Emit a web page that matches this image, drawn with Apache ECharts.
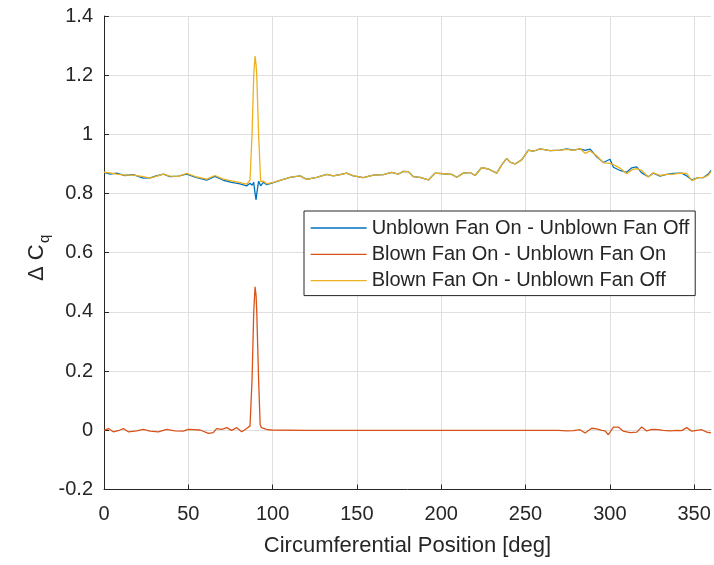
<!DOCTYPE html>
<html>
<head>
<meta charset="utf-8">
<title>Delta Cq vs circumferential position</title>
<script src="https://cdn.jsdelivr.net/npm/echarts@6/dist/echarts.min.js"></script>
<style>
  html, body { margin: 0; padding: 0; background: #ffffff; }
  #chart { width: 714px; height: 565px; }
</style>
</head>
<body>
<div id="chart"></div>
<script>
// Series names as shown in the legend
var seriesNames = [
  'Unblown Fan On - Unblown Fan Off',
  'Blown Fan On - Unblown Fan On',
  'Blown Fan On - Unblown Fan Off'
];

// Circumferential positions [deg] for the two upper traces
var angleTop = [
  0, 3.6, 7.5, 12.5, 17.4, 23.3, 27.3, 31, 35.2, 39.1,
  44, 49, 55, 60.9, 65.8, 70.8, 75.7, 80.7, 84.6, 86.6,
  87.8, 88.8, 89.6, 90.2, 90.6, 91.7, 92.9, 94.5, 96.5, 100.4,
  105.4, 110.3, 116.3, 120.2, 126.1, 132.1, 136, 140, 143.9, 147.9,
  153.8, 159.7, 165.7, 170.6, 174.6, 177.5, 180.5, 183.5, 187.4, 192.4,
  196.3, 201.3, 206.2, 209.2, 213.1, 217.1, 220.1, 224, 228, 232.9,
  235.9, 238.8, 240.8, 243.8, 247.7, 251.7, 254.6, 258.6, 264.5, 270.5,
  274.4, 278.4, 282.3, 285.3, 288.3, 292.2, 296.2, 300.1, 302.1, 306,
  310, 313, 315.9, 318.9, 322.8, 325.8, 329.8, 333.7, 337.7, 342.6,
  345.6, 348.6, 352.5, 355.5, 358.4, 360
];

// Unblown Fan On - Unblown Fan Off
var dqUnblown = [
  0.872, 0.866, 0.869, 0.861, 0.864, 0.852, 0.853, 0.860, 0.866, 0.857,
  0.859, 0.866, 0.854, 0.845, 0.858, 0.845, 0.838, 0.833, 0.826, 0.835,
  0.828, 0.838, 0.800, 0.779, 0.800, 0.842, 0.826, 0.838, 0.830, 0.837,
  0.846, 0.855, 0.860, 0.848, 0.855, 0.865, 0.860, 0.864, 0.869, 0.860,
  0.854, 0.862, 0.864, 0.872, 0.866, 0.875, 0.874, 0.857, 0.855, 0.846,
  0.869, 0.867, 0.865, 0.855, 0.869, 0.871, 0.861, 0.888, 0.883, 0.869,
  0.897, 0.919, 0.906, 0.900, 0.914, 0.947, 0.943, 0.951, 0.945, 0.947,
  0.951, 0.947, 0.951, 0.946, 0.950, 0.924, 0.905, 0.916, 0.889, 0.878,
  0.872, 0.887, 0.890, 0.870, 0.857, 0.869, 0.859, 0.865, 0.868, 0.869,
  0.860, 0.846, 0.854, 0.854, 0.866, 0.878
];

// Blown Fan On - Unblown Fan Off
var dqBlownOff = [
  0.872, 0.870, 0.866, 0.862, 0.862, 0.857, 0.852, 0.858, 0.866, 0.859,
  0.858, 0.868, 0.856, 0.849, 0.861, 0.849, 0.843, 0.837, 0.832, 0.845,
  1.000, 1.200, 1.265, 1.235, 1.200, 1.000, 0.840, 0.842, 0.833, 0.838,
  0.846, 0.855, 0.860, 0.848, 0.855, 0.865, 0.860, 0.864, 0.869, 0.860,
  0.854, 0.862, 0.864, 0.872, 0.866, 0.875, 0.874, 0.857, 0.855, 0.846,
  0.869, 0.867, 0.865, 0.855, 0.869, 0.871, 0.861, 0.888, 0.883, 0.869,
  0.897, 0.919, 0.906, 0.900, 0.914, 0.947, 0.943, 0.951, 0.945, 0.947,
  0.949, 0.946, 0.952, 0.936, 0.944, 0.928, 0.904, 0.902, 0.898, 0.886,
  0.867, 0.880, 0.884, 0.878, 0.856, 0.870, 0.861, 0.865, 0.866, 0.869,
  0.868, 0.844, 0.854, 0.854, 0.862, 0.874
];

// Circumferential positions [deg] for the lower trace
var angleBottom = [
  0, 2.6, 5.5, 9.5, 11.5, 14.4, 19.4, 23.3, 27.3, 32.2,
  37.2, 42.1, 47, 50, 57, 61.9, 64.8, 66.8, 69.8, 72.8,
  75.7, 78.7, 81.7, 84.6, 86.6, 87.8, 88.8, 89.6, 90.2, 90.6,
  91.7, 92.6, 93.4, 96.3, 99.3, 120, 150, 180, 210, 240,
  269.5, 274.4, 278.4, 282.3, 285.3, 289.2, 292.2, 295.2, 297.2, 299.1,
  302.1, 305, 308, 312, 316, 318.9, 321.9, 324.9, 328.8, 331.7,
  335.7, 339.7, 342.6, 345.6, 348.6, 351.5, 354.5, 357.5, 360
];

// Blown Fan On - Unblown Fan On
var dqBlownOn = [
  0.000, 0.006, -0.005, 0.001, 0.006, -0.005, -0.002, 0.003, -0.003, -0.005,
  0.003, -0.002, -0.003, 0.003, 0.001, -0.010, -0.008, 0.006, 0.003, 0.009,
  0.000, 0.009, -0.005, 0.006, 0.015, 0.170, 0.400, 0.485, 0.455, 0.400,
  0.170, 0.020, 0.009, 0.003, 0.001, 0.000, 0.000, 0.000, 0.000, 0.000,
  0.000, -0.002, -0.001, 0.002, -0.009, 0.007, 0.005, 0.000, -0.002, -0.015,
  0.011, 0.011, -0.003, -0.008, -0.006, 0.011, -0.002, 0.003, 0.002, 0.000,
  -0.002, 0.000, -0.001, 0.009, -0.003, 0.000, 0.002, -0.006, -0.009
];

// Axis tick values
var xTicks = [0, 50, 100, 150, 200, 250, 300, 350];
var yTicks = [-0.2, 0, 0.2, 0.4, 0.6, 0.8, 1, 1.2, 1.4];

var FONT = '"Liberation Sans", Arial, Helvetica, sans-serif';
var INK = '#262626';
var GRID = '#dfdfdf';
var COLORS = ['#0072BD', '#D95319', '#EDB120'];

function pairs(xs, ys) {
  return xs.map(function (x, i) { return [x, ys[i]]; });
}

var chart = echarts.init(document.getElementById('chart'), null, { renderer: 'canvas' });

chart.setOption({
  animation: false,
  backgroundColor: '#ffffff',
  color: COLORS,
  grid: { left: 104, right: 3, top: 16, bottom: 75.5, containLabel: false },
  xAxis: {
    type: 'value',
    min: 0,
    max: 360,
    interval: 50,
    name: 'Circumferential Position [deg]',
    nameLocation: 'middle',
    nameGap: 45,
    nameTextStyle: { fontSize: 22, color: INK, fontFamily: FONT },
    axisLine: { show: true, onZero: false, lineStyle: { color: INK, width: 1 } },
    axisTick: { show: true, inside: true, length: 5, customValues: xTicks, lineStyle: { color: INK, width: 1 } },
    axisLabel: { customValues: xTicks, fontSize: 20, color: INK, fontFamily: FONT, margin: 15 },
    splitLine: {
      show: true,
      lineStyle: {
        color: [GRID, GRID, GRID, GRID, GRID, GRID, GRID, GRID, 'rgba(0,0,0,0)'],
        width: 1
      }
    }
  },
  yAxis: {
    type: 'value',
    min: -0.2,
    max: 1.4,
    interval: 0.2,
    axisLine: { show: true, onZero: false, lineStyle: { color: INK, width: 1 } },
    axisTick: { show: true, inside: true, length: 5, customValues: yTicks, lineStyle: { color: INK, width: 1 } },
    axisLabel: { customValues: yTicks, fontSize: 20, color: INK, fontFamily: FONT, margin: 11 },
    splitLine: { show: true, lineStyle: { color: GRID, width: 1 } }
  },
  legend: {
    orient: 'vertical',
    left: 304,
    top: 211,
    padding: [7, 6, 5, 6],
    itemGap: 6.3,
    itemWidth: 56,
    itemHeight: 20,
    backgroundColor: '#ffffff',
    borderColor: INK,
    borderWidth: 1,
    borderRadius: 0,
    // line-only legend keys (no marker on the line)
    itemStyle: { opacity: 0 },
    lineStyle: { width: 1.3 },
    textStyle: { fontSize: 20, color: INK, fontFamily: FONT },
    data: seriesNames
  },
  graphic: [
    {
      type: 'group',
      x: 37,
      y: 281,
      rotation: Math.PI / 2,
      children: [
        {
          type: 'text',
          x: 0,
          y: 0,
          style: { text: '\u0394 C', fontSize: 22, fontFamily: FONT, fill: INK, align: 'left', verticalAlign: 'middle' }
        },
        {
          type: 'text',
          x: 38,
          y: 8,
          style: { text: 'q', fontSize: 15, fontFamily: FONT, fill: INK, align: 'left', verticalAlign: 'middle' }
        }
      ]
    }
  ],
  series: [
    {
      name: seriesNames[0],
      type: 'line',
      symbol: 'none',
      showSymbol: false,
      lineStyle: { width: 1.3, color: COLORS[0] },
      itemStyle: { color: COLORS[0] },
      data: pairs(angleTop, dqUnblown)
    },
    {
      name: seriesNames[1],
      type: 'line',
      symbol: 'none',
      showSymbol: false,
      lineStyle: { width: 1.3, color: COLORS[1] },
      itemStyle: { color: COLORS[1] },
      data: pairs(angleBottom, dqBlownOn)
    },
    {
      name: seriesNames[2],
      type: 'line',
      symbol: 'none',
      showSymbol: false,
      lineStyle: { width: 1.3, color: COLORS[2] },
      itemStyle: { color: COLORS[2] },
      data: pairs(angleTop, dqBlownOff)
    }
  ]
});
</script>
</body>
</html>
